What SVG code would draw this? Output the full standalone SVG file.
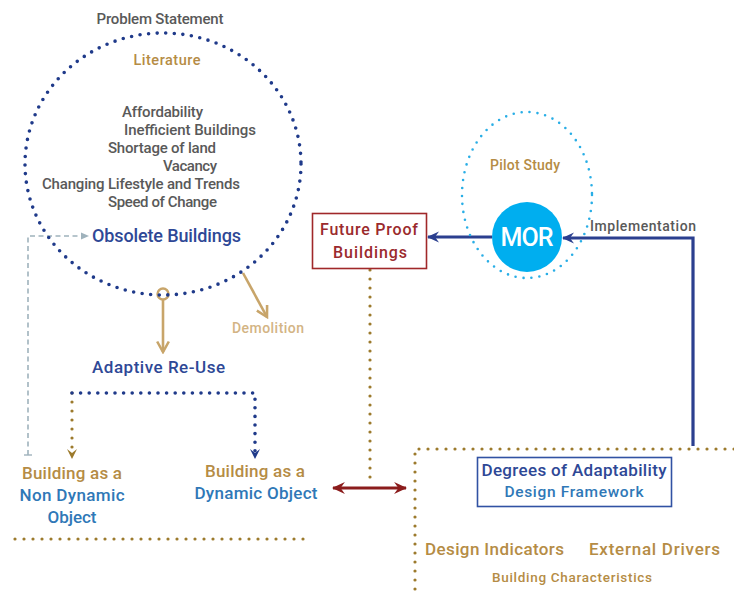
<svg xmlns="http://www.w3.org/2000/svg" width="734" height="591" viewBox="0 0 734 591">
  <style>
    text { font-family: Roboto, "Liberation Sans", Arial, sans-serif; font-weight: 500; }
    .gray { fill: #595959; }
    .gold { fill: #b58c45; }
    .navy { fill: #2e4896; }
    .blue { fill: #2f78b7; }
    .red { fill: #9b2a2d; }
    .dots-navy { fill: none; stroke: #1f3a8a; stroke-width: 3.6; stroke-linecap: round; stroke-dasharray: 0 8.6; }
    .dots-gold { fill: none; stroke: #9c7a2c; stroke-width: 3.2; stroke-linecap: round; stroke-dasharray: 0 9; }
    .dots-sky { fill: none; stroke: #29aee6; stroke-width: 2.6; stroke-linecap: round; stroke-dasharray: 0 8; }
  </style>
  <defs>
    <marker id="barb-navy" viewBox="0 0 12 12" refX="11" refY="6" markerWidth="12" markerHeight="12" markerUnits="userSpaceOnUse" orient="auto">
      <path d="M0,0.5 L12,6 L0,11.5 L4,6 Z" fill="#2b3f8f"/>
    </marker>
    <marker id="barb-red" viewBox="0 0 12 12" refX="11" refY="6" markerWidth="13" markerHeight="13" markerUnits="userSpaceOnUse" orient="auto-start-reverse">
      <path d="M0,0.5 L12,6 L0,11.5 L4,6 Z" fill="#8b1c1c"/>
    </marker>
    <marker id="vee-tan" viewBox="0 0 12 12" refX="10" refY="6" markerWidth="14" markerHeight="14" markerUnits="userSpaceOnUse" orient="auto">
      <path d="M1,1 L10,6 L1,11" fill="none" stroke="#c8a56a" stroke-width="2.2"/>
    </marker>
    <marker id="tip-gray" viewBox="0 0 10 10" refX="9" refY="5" markerWidth="9" markerHeight="9" markerUnits="userSpaceOnUse" orient="auto">
      <path d="M0,1 L9,5 L0,9 Z" fill="#9fb2bc"/>
    </marker>
  </defs>

  <!-- connectors -->
  <g id="connectors">
    <!-- feedback from non-dynamic back to obsolete -->
    <path d="M28,455 V236 H89" fill="none" stroke="#9fb2bc" stroke-width="1.6" stroke-dasharray="5 3.5" marker-end="url(#tip-gray)"/>
    <line x1="24" y1="455" x2="32" y2="455" stroke="#9fb2bc" stroke-width="1.4"/>
    <!-- obsolete to adaptive re-use -->
    <circle cx="163" cy="294" r="5.5" fill="none" stroke="#c8a56a" stroke-width="2.4"/>
    <line x1="163" y1="300" x2="163" y2="352" stroke="#c8a56a" stroke-width="2.6" marker-end="url(#vee-tan)"/>
    <!-- demolition -->
    <line x1="243" y1="273" x2="267" y2="317" stroke="#c8a56a" stroke-width="2.6" marker-end="url(#vee-tan)"/>
    <!-- split into two objects -->
    <path class="dots-gold" d="M72,393 V452"/>
    <path class="dots-navy" d="M72,393 H255 V452"/>
    <path d="M67,449 L72,459 L77,449 L72,453 Z" fill="#9c7a2c"/>
    <path d="M250,449 L255,459 L260,449 L255,453 Z" fill="#1f3a8a"/>
    <!-- base line under objects -->
    <path class="dots-gold" d="M15,539 H312"/>
    <!-- future proof down to framework -->
    <path class="dots-gold" d="M370,270 V486"/>
    <!-- dynamic object <-> framework -->
    <line x1="333" y1="488" x2="406" y2="488" stroke="#8b1c1c" stroke-width="3" marker-start="url(#barb-red)" marker-end="url(#barb-red)"/>
    <!-- MOR to future proof -->
    <line x1="492" y1="237" x2="428" y2="237" stroke="#2b3f8f" stroke-width="3" marker-end="url(#barb-navy)"/>
    <!-- implementation feedback -->
    <path d="M693,446 V238 H563" fill="none" stroke="#2b3f8f" stroke-width="3.2" marker-end="url(#barb-navy)"/>
    <text x="590" y="231" class="gray" font-size="14" textLength="106">Implementation</text>
  </g>

  <!-- problem statement circle -->
  <g id="problem">
    <ellipse class="dots-navy" cx="163" cy="164" rx="138" ry="131"/>
    <text x="160" y="24" class="gray" font-size="15" text-anchor="middle" textLength="127">Problem Statement</text>
    <text x="167" y="65" class="gold" font-size="14.5" text-anchor="middle" textLength="67">Literature</text>
    <text x="122" y="117" class="gray" font-size="15" textLength="81">Affordability</text>
    <text x="124" y="135" class="gray" font-size="15" textLength="132">Inefficient Buildings</text>
    <text x="108" y="153" class="gray" font-size="15" textLength="108">Shortage of land</text>
    <text x="163" y="171" class="gray" font-size="15" textLength="54">Vacancy</text>
    <text x="42" y="189" class="gray" font-size="15" textLength="198">Changing Lifestyle and Trends</text>
    <text x="108" y="207" class="gray" font-size="15" textLength="109">Speed of Change</text>
  </g>

  <g id="obsolete">
    <text x="92" y="242" class="navy" font-size="18" textLength="149">Obsolete Buildings</text>
  </g>

  <g id="demolition">
    <text x="232" y="333" fill="#d3b484" font-size="14" textLength="72">Demolition</text>
  </g>

  <g id="adaptive">
    <text x="92" y="373" class="navy" font-size="17" textLength="133">Adaptive Re-Use</text>
  </g>

  <g id="non-dynamic">
    <text x="72" y="479" class="gold" font-size="17" text-anchor="middle" textLength="100">Building as a</text>
    <text x="72" y="501" class="blue" font-size="17" text-anchor="middle" textLength="105">Non Dynamic</text>
    <text x="72" y="523" class="blue" font-size="17" text-anchor="middle" textLength="49">Object</text>
  </g>

  <g id="dynamic">
    <text x="255" y="477" class="gold" font-size="17" text-anchor="middle" textLength="100">Building as a</text>
    <text x="256" y="499" class="blue" font-size="17" text-anchor="middle" textLength="123">Dynamic Object</text>
  </g>

  <g id="future-proof">
    <rect x="312.5" y="213.5" width="114" height="55" fill="#fff" stroke="#a0282a" stroke-width="1.6"/>
    <text x="369" y="235" class="red" font-size="16" text-anchor="middle" textLength="98">Future Proof</text>
    <text x="370" y="258" class="red" font-size="16" text-anchor="middle" textLength="74">Buildings</text>
  </g>

  <g id="pilot">
    <ellipse class="dots-sky" cx="527" cy="195" rx="65" ry="83"/>
    <text x="525" y="170" class="gold" font-size="14" text-anchor="middle" textLength="70">Pilot Study</text>
  </g>

  <g id="mor">
    <circle cx="527" cy="237" r="35" fill="#00aeef"/>
    <text x="527" y="246" fill="#fff" font-size="25" font-weight="400" text-anchor="middle" textLength="53">MOR</text>
  </g>

  <g id="characteristics">
    <path class="dots-gold" d="M734,449 H415 V591"/>
    <text x="425" y="555" class="gold" font-size="17" textLength="139">Design Indicators</text>
    <text x="589" y="555" class="gold" font-size="17" textLength="131">External Drivers</text>
    <text x="572" y="582" class="gold" font-size="13.5" text-anchor="middle" textLength="160">Building Characteristics</text>
  </g>

  <g id="framework">
    <rect x="477.5" y="457.5" width="194" height="49" fill="#fff" stroke="#3152a3" stroke-width="1.6"/>
    <text x="574" y="476" class="navy" font-size="17" text-anchor="middle" textLength="185">Degrees of Adaptability</text>
    <text x="574" y="497" class="blue" font-size="15.5" text-anchor="middle" textLength="139">Design Framework</text>
  </g>
</svg>
